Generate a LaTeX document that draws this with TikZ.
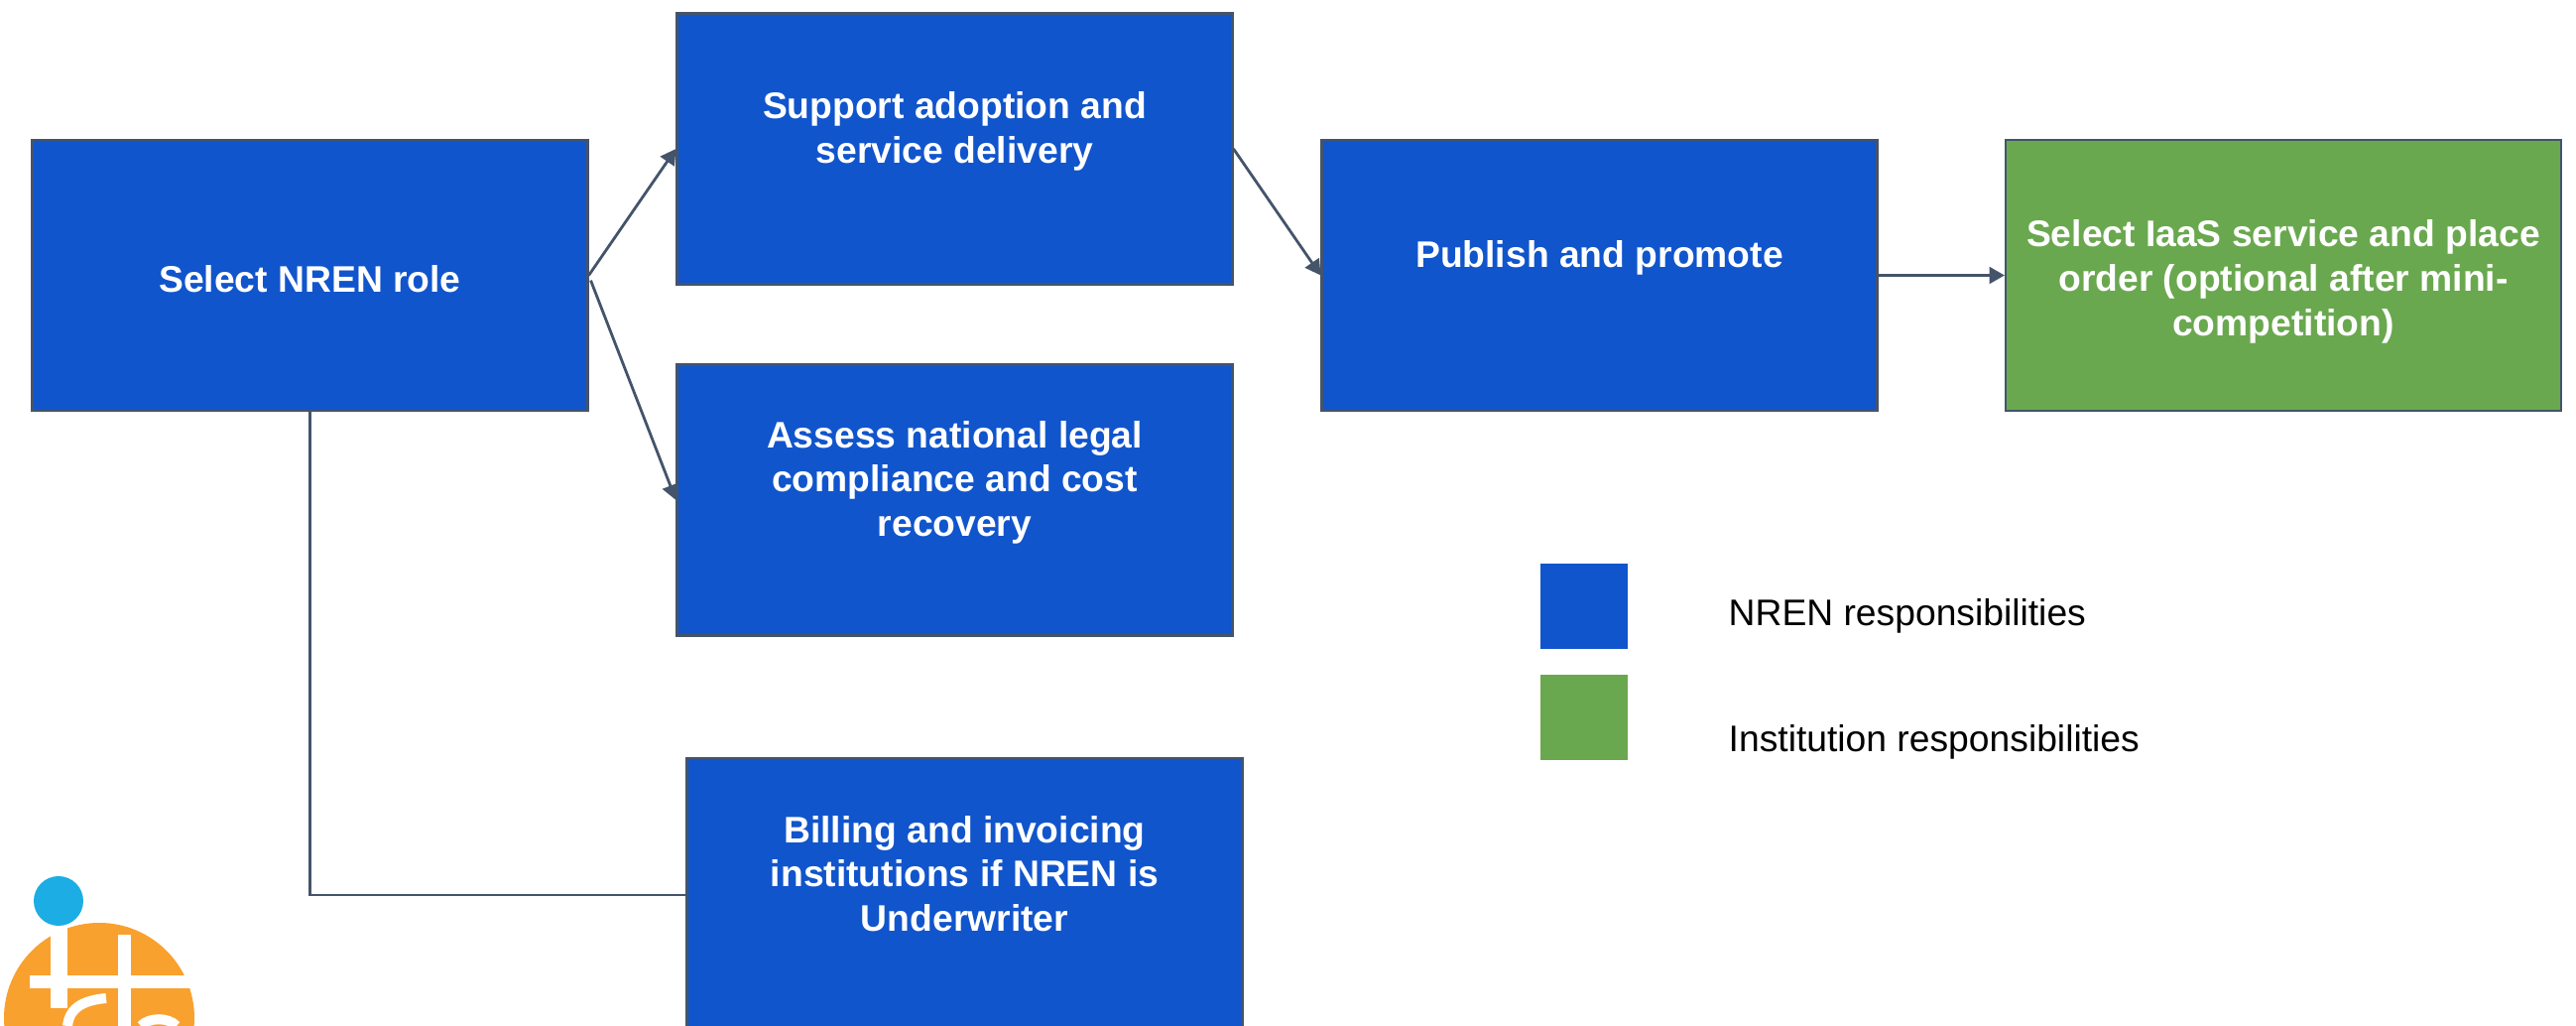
\documentclass[tikz,border=0pt]{standalone}
\usepackage{fontspec}
\setmainfont{Liberation Sans}
\usetikzlibrary{arrows.meta}

\definecolor{boxblue}{HTML}{1155CC}
\definecolor{boxgreen}{HTML}{6AA84F}
\definecolor{linegrey}{HTML}{44546A}
\definecolor{logoorange}{HTML}{F9A12E}
\definecolor{logocyan}{HTML}{1CADE4}

\newcommand{\blankline}{\\[-4.4pt]\strut}

\tikzset{
  stepbox/.style={draw=linegrey,line width=0.6pt,fill=boxblue,text=white,
    minimum width=5.6cm,minimum height=2.73cm,inner sep=0pt,align=center,
    font=\fontsize{10.6}{12.8}\selectfont\bfseries},
  instbox/.style={stepbox,fill=boxgreen},
  keybox/.style={minimum width=0.88cm,minimum height=0.86cm,inner sep=0pt},
  keytext/.style={inner sep=0pt,font=\fontsize{10.6}{12.8}\selectfont},
  conn/.style={draw=linegrey,line width=0.8pt,-{Triangle[length=4.4pt,width=4.8pt]}},
  plainconn/.style={draw=linegrey,line width=0.6pt},
  logocut/.style={draw=white,line width=0.13cm}
}

\begin{document}
\begin{tikzpicture}
      \useasboundingbox (0,0) rectangle (25.97,-10.34);
      \clip (0,0) rectangle (25.97,-10.34);

      % logo
      \fill[logoorange] (1.00,-10.26) circle (0.96);
      \draw[logocut,line width=0.17cm] (0.595,-9.25) -- (0.595,-10.16);
      \draw[logocut] (1.25,-9.42) -- (1.25,-10.34);
      \draw[logocut] (0.30,-9.89) -- (1.95,-9.89);
      \draw[logocut,line width=0.1cm] (0.68,-10.34) .. controls (0.70,-10.15) and (0.85,-10.08) .. (1.07,-10.06);
      \draw[logocut,line width=0.1cm] (1.42,-10.34) .. controls (1.50,-10.25) and (1.70,-10.25) .. (1.78,-10.34);
      \fill[logocyan] (0.59,-9.08) circle (0.25);

      \node [stepbox] (nren) at (3.125,-2.775) {\rule{0pt}{9.6pt}Select NREN role};
      \node [stepbox,right of=nren,xshift=5.5cm,yshift=1.275cm] (support) {Support adoption and\\service delivery\blankline};
      \node [stepbox,below of=support,yshift=-2.54cm] (assess) {Assess national legal\\compliance and cost\\recovery\blankline};
      \node [stepbox,below of=assess,xshift=0.1cm,yshift=-2.98cm,minimum height=2.76cm] (billing) {Billing and invoicing\\institutions if NREN is\\Underwriter\blankline};
      \node [stepbox,right of=support,xshift=5.5cm,yshift=-1.275cm] (publish) {Publish and promote\blankline};
      \node [instbox,right of=publish,xshift=5.895cm] (iaas) {\rule{0pt}{11.4pt}Select IaaS service and place\\order (optional after mini-\\competition)};

      \node [keybox,fill=boxblue] (keynren) at (15.97,-6.11) {};
      \node [keybox,fill=boxgreen,below of=keynren,yshift=-0.12cm] (keyinst) {};
      \node [keytext,right of=keynren,xshift=0.45cm,yshift=-0.10cm,anchor=west] (textnren) {NREN responsibilities};
      \node [keytext,right of=keyinst,xshift=0.45cm,yshift=-0.25cm,anchor=west] (textinst) {Institution responsibilities};

      \draw[conn] (nren.east) -- (support.west);
      \draw[conn,shorten <=0.055cm] (nren.east) -- (assess.west);
      \draw[conn] (support.east) -- (publish.west);
      \draw[conn] (publish.east) -- (iaas.west);
      \draw[plainconn] (nren.south) |- (billing.west);
    \end{tikzpicture}
\end{document}
